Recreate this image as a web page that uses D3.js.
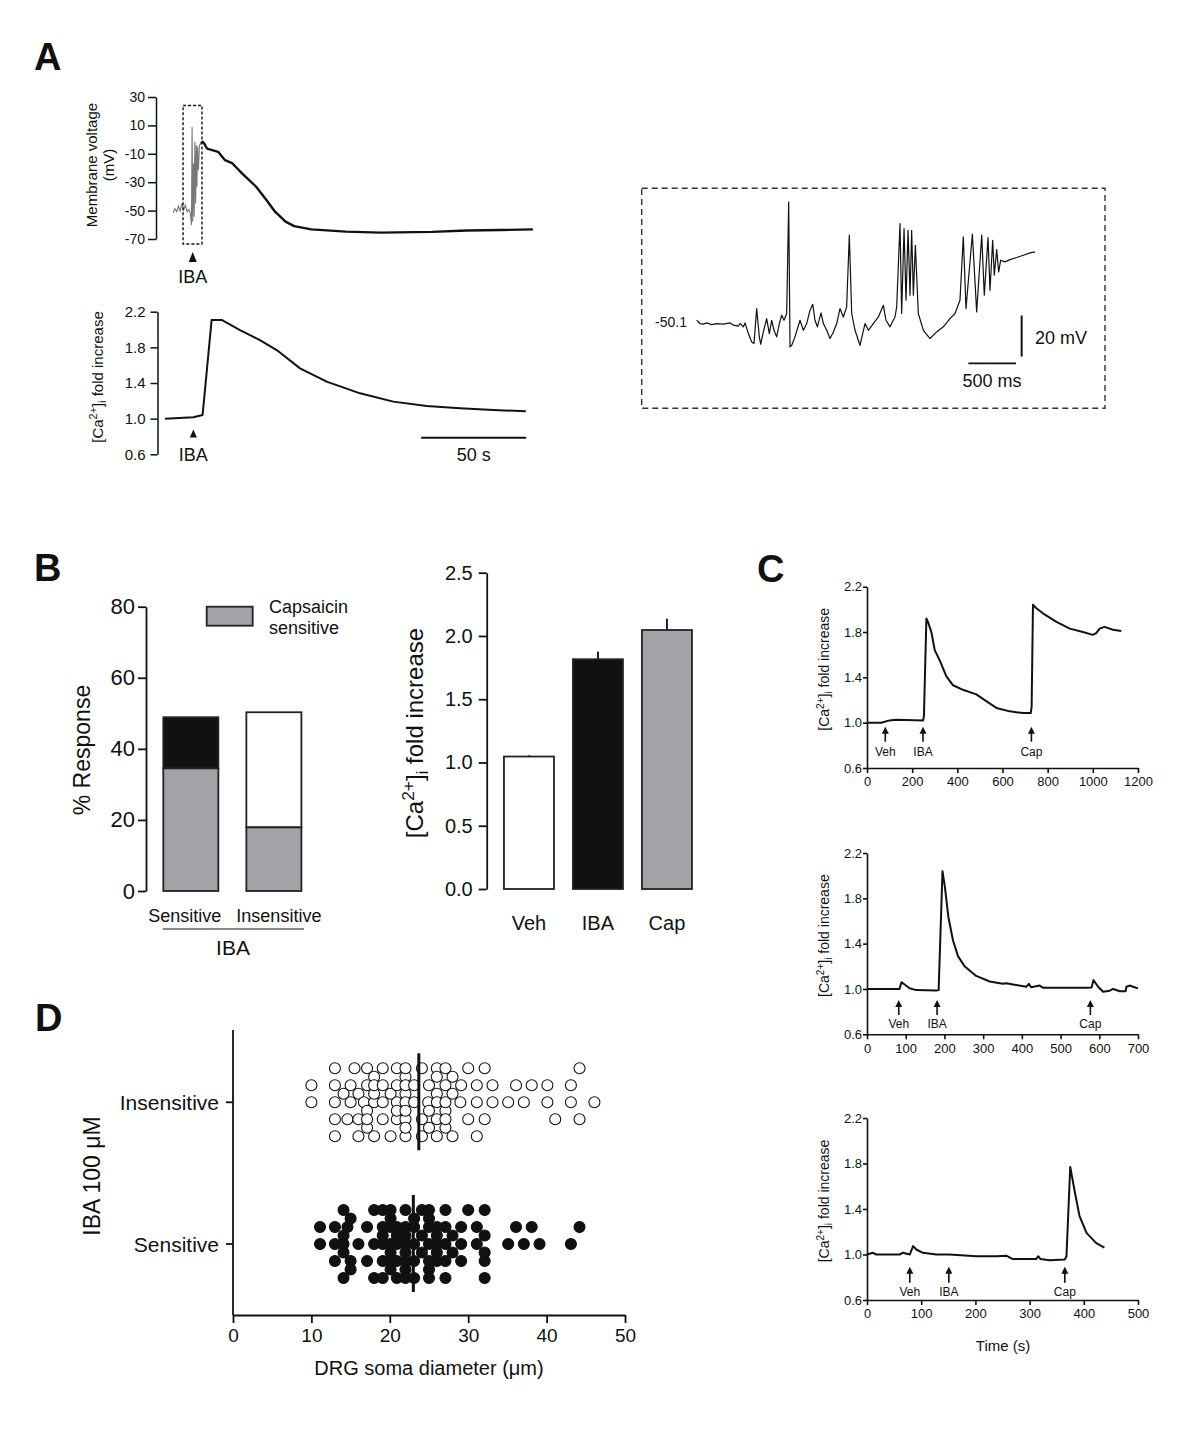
<!DOCTYPE html>
<html><head><meta charset="utf-8">
<script src="https://cdn.jsdelivr.net/npm/d3@7"></script>
<style>body{margin:0;background:#fff}svg{display:block}</style>
</head><body><svg id="c" width="1200" height="1440"></svg>
<script>
// ================= DATA =================
// Panel A top: membrane voltage (time s, mV)
const aVoltEarly = [[3.9,-51.5],[4.7,-48.5],[5.6,-50.8],[6.4,-46.8],[7.2,-50.3],[8.1,-44.9],[8.9,-49.6],[9.7,-46.1],[10.5,-50.8],[11.3,-49.2],[12.1,-52.0],[12.6,-60.2],[12.9,8.9],[13.2,-57.8],[13.6,-16.8],[13.9,-54.3],[14.2,-1.6],[14.6,-45.0],[14.9,-4.0],[15.2,-33.2],[15.5,-5.1],[15.9,-21.5],[16.4,-4.0],[17.1,-2.8]];
const aVoltLate = [[17.1,-2.8],[17.9,-1.6],[18.7,-2.8],[20.0,-6.3],[25.3,-8.6],[28.6,-14.5],[31.9,-16.5],[36.8,-23.9],[43.4,-33.2],[48.3,-42.6],[52.4,-50.8],[57.4,-57.8],[61.5,-60.9],[69.7,-63.2],[86.1,-64.8],[102.6,-65.5],[127.2,-65.0],[143.7,-64.0],[160.1,-63.7],[175.2,-63.2]];
const aVoltTicks = [30,10,-10,-30,-50,-70];
// Panel A bottom: [Ca2+]i fold increase (time s, ratio)
const aCa = [[0,1.0],[13.5,1.015],[17.9,1.041],[22.2,2.107],[27.0,2.107],[35.7,1.994],[45.2,1.882],[53.2,1.77],[64.3,1.564],[77.0,1.415],[92.9,1.284],[108.7,1.191],[124.6,1.142],[140.5,1.116],[156.3,1.097],[171.8,1.082]];
const aCaTicks = [0.6,1.0,1.4,1.8,2.2];
const aIbaTime = 13.2;
// Panel A inset: burst (time ms, mV)
const inset = [[0,-49.3],[35,-50.9],[70,-51.2],[105,-50.6],[157,-51.4],[210,-50.9],[280,-51.2],[350,-50.6],[385,-51.7],[437,-52.2],[455,-50.9],[490,-52.5],[507,-50.6],[542,-55.8],[577,-59.9],[601,-60.7],[629,-43.6],[657,-57.4],[671,-61.0],[699,-55.0],[734,-48.5],[762,-55.8],[787,-49.3],[811,-54.2],[839,-57.4],[867,-50.9],[892,-46.8],[916,-49.3],[944,-46.0],[965,8.4],[979,-62.3],[997,-61.5],[1031,-57.4],[1084,-49.3],[1119,-54.2],[1154,-50.9],[1189,-44.4],[1217,-41.5],[1241,-49.3],[1266,-52.5],[1304,-45.7],[1329,-50.9],[1364,-54.2],[1399,-58.2],[1434,-55.0],[1469,-50.9],[1503,-43.6],[1538,-47.7],[1573,-42.8],[1601,-7.8],[1626,-46.0],[1661,-54.2],[1713,-61.5],[1766,-50.9],[1801,-54.2],[1853,-50.9],[1906,-47.7],[1958,-42.0],[1986,-49.3],[2028,-52.5],[2080,-47.7],[2098,-42.8],[2133,-2.1],[2150,-46.0],[2175,-4.6],[2196,-39.5],[2217,-5.4],[2238,-37.1],[2255,-5.4],[2273,-37.1],[2294,-12.7],[2325,-46.0],[2378,-54.2],[2448,-58.2],[2517,-55.0],[2587,-52.5],[2657,-48.5],[2710,-46.0],[2762,-39.5],[2797,-8.6],[2825,-43.6],[2892,-7.3],[2937,-45.2],[2990,-7.8],[3017,-37.1],[3056,-9.0],[3077,-34.7],[3105,-10.3],[3122,-27.3],[3147,-14.8],[3168,-25.7],[3189,-20.0],[3234,-20.8],[3287,-19.7],[3357,-18.7],[3427,-17.6],[3497,-16.4],[3549,-15.9]];
// Panel B left: % response
const bCats = ["Sensitive","Insensitive"];
const bCapSens = [34.5, 17.9];
const bTotal = [48.9, 50.3];
const bLeftTicks = [0,20,40,60,80];
// Panel B right: mean fold increase
const bDrugs = ["Veh","IBA","Cap"];
const bMeans = [1.047, 1.816, 2.047];
const bSem = [0.01, 0.06, 0.09];
const bRightTicks = [0,0.5,1.0,1.5,2.0,2.5];
// Panel C traces (time s, ratio)
const c1 = [[0,1.0],[63,1.0],[100,1.02],[130,1.025],[248,1.02],[252,1.055],[263,1.92],[270,1.89],[285,1.80],[300,1.64],[322,1.55],[351,1.41],[381,1.33],[425,1.29],[484,1.25],[528,1.19],[573,1.13],[632,1.10],[691,1.085],[725,1.085],[729,1.14],[735,2.04],[750,2.01],[779,1.965],[839,1.89],[898,1.83],[956,1.80],[1000,1.775],[1015,1.79],[1030,1.83],[1052,1.845],[1089,1.82],[1126,1.81]];
const c2 = [[0,1.0],[84,1.0],[89,1.06],[97,1.04],[110,1.007],[127,0.99],[179,0.986],[185,0.99],[195,2.04],[201,1.905],[210,1.64],[222,1.43],[235,1.29],[252,1.20],[282,1.115],[317,1.066],[351,1.046],[360,1.05],[377,1.04],[412,1.02],[418,1.045],[424,1.015],[446,1.03],[455,1.01],[515,1.01],[567,1.01],[580,1.013],[585,1.078],[597,1.02],[610,0.976],[627,0.985],[636,1.0],[653,0.98],[668,0.98],[670,1.02],[680,1.03],[687,1.02],[700,1.005]];
const c3 = [[0,1.0],[11,1.015],[17,1.0],[30,1.0],[60,1.0],[66,1.015],[79,1.0],[85,1.074],[91,1.044],[103,1.015],[128,1.0],[152,1.0],[202,0.985],[239,0.985],[257,0.99],[269,0.96],[288,0.96],[312,0.96],[316,0.985],[320,0.96],[337,0.95],[365,0.955],[368,0.985],[375,1.77],[383,1.56],[392,1.34],[405,1.19],[423,1.10],[438,1.06]];
const cEvents1 = [["Veh",81],["IBA",248],["Cap",728]];
const cEvents2 = [["Veh",82],["IBA",181],["Cap",577]];
const cEvents3 = [["Veh",79],["IBA",151],["Cap",365]];
const cYTicks = [0.6,1.0,1.4,1.8,2.2];
// Panel D: soma diameters (um)
const dCats = ["Insensitive","Sensitive"];
const dInsensitive = [13.0,16.0,18.0,22.0,24.1,26.0,28.0,32.1,20.1,22.0,15.0,17.1,19.1,22.0,24.9,26.0,27.1,30.0,10.0,13.0,16.0,18.0,20.9,22.0,23.1,25.0,27.1,31.1,37.1,40.1,43.1,44.2,14.1,17.1,19.1,20.9,22.0,26.0,27.1,29.1,33.1,10.0,13.0,15.5,17.1,18.0,20.1,22.0,23.1,25.0,27.1,31.1,35.1,38.1,41.1,44.2,15.0,17.1,19.1,20.9,22.0,26.0,27.1,33.1,13.0,16.0,18.0,20.9,22.0,24.1,26.0,28.0,29.0,31.1,36.1,40.1,43.1,46.1,17.1,19.1,22.0,27.1,13.0,14.6,16.7,18.0,20.9,24.1,25.0,26.0,28.0,30.0,32.1];
const dSensitive = [13.0,14.1,18.0,20.1,22.0,23.1,25.0,26.0,29.1,32.1,20.9,22.0,25.0,15.0,19.1,20.1,22.0,24.1,27.1,11.1,14.1,17.1,19.1,20.1,20.9,22.0,23.1,26.0,28.0,32.1,36.1,44.2,14.6,16.0,19.1,20.1,22.0,23.1,25.0,27.1,29.1,32.1,11.1,14.1,17.1,19.1,20.1,20.9,22.0,24.1,25.0,26.0,31.1,35.1,38.1,43.1,15.0,19.1,20.9,23.1,25.0,27.1,30.0,13.0,14.1,18.0,20.1,22.0,24.1,26.0,28.0,31.1,32.1,37.1,39.1,19.1,20.9,23.1,25.0,27.1,13.0,14.1,15.0,18.0,20.1,22.0,25.0,26.0,27.1,29.1,32.1];
const dMedians = [23.7, 23.0];
const dTicks = [0,10,20,30,40,50];

// ================= DRAW =================
const FONT = '"Liberation Sans", Arial, Helvetica, sans-serif';
const INK = "#111";
const GREY = "#a3a3a7";
const svg = d3.select("#c").attr("font-family", FONT);
svg.append("rect").attr("width",1200).attr("height",1440).attr("fill","#fff");

function txt(x, y, s, size, opts = {}) {
  const t = svg.append("text").attr("x", x).attr("y", y).text(s)
    .attr("font-size", size).attr("fill", INK)
    .attr("text-anchor", opts.anchor || "start");
  if (opts.bold) t.attr("font-weight", "bold");
  if (opts.rot) t.attr("transform", `rotate(-90,${x},${y})`);
  return t;
}
function caLabel(x, y, size) {
  const t = svg.append("text").attr("transform", `translate(${x},${y}) rotate(-90)`)
    .attr("text-anchor", "middle").attr("font-size", size).attr("fill", INK);
  t.append("tspan").text("[Ca");
  t.append("tspan").text("2+").attr("dy", -size * 0.38).attr("font-size", size * 0.72);
  t.append("tspan").text("]").attr("dy", size * 0.38);
  t.append("tspan").text("i").attr("dy", size * 0.22).attr("font-size", size * 0.72);
  t.append("tspan").text(" fold increase").attr("dy", -size * 0.22);
}
function styleAxis(g, fs, sw) {
  g.attr("font-family", FONT).attr("font-size", fs);
  g.selectAll("path.domain").attr("stroke", INK).attr("stroke-width", sw);
  g.selectAll(".tick line").attr("stroke", INK).attr("stroke-width", sw);
  g.selectAll(".tick text").attr("fill", INK);
}
const fmt = d => String(d);

// ---- Panel letters
txt(34, 70, "A", 38, {bold: true});
txt(34, 581, "B", 38, {bold: true});
txt(757, 582, "C", 38, {bold: true});
txt(35, 1031, "D", 38, {bold: true});

// ---- Panel A top
const xA = d3.scaleLinear().domain([0, 50]).range([165, 270]);
const yAV = d3.scaleLinear().domain([-70, 30]).range([239, 97]);
const gAt = svg.append("g").attr("transform", "translate(156,0)")
  .call(d3.axisLeft(yAV).tickValues(aVoltTicks).tickFormat(fmt).tickSize(8).tickSizeOuter(0).tickPadding(3));
styleAxis(gAt, 14, 1.5);
txt(97, 165, "Membrane voltage", 15, {anchor: "middle", rot: true});
txt(114, 165, "(mV)", 15, {anchor: "middle", rot: true});
const lineA = d3.line().x(d => xA(d[0])).y(d => yAV(d[1]));
svg.append("path").datum(aVoltEarly).attr("d", lineA).attr("fill", "none").attr("stroke", "#777").attr("stroke-width", 1.1);
svg.append("path").datum(aVoltLate).attr("d", lineA).attr("fill", "none").attr("stroke", INK).attr("stroke-width", 2.4).attr("stroke-linejoin", "round");
svg.append("rect").attr("x", xA(8.6)).attr("y", yAV(24)).attr("width", xA(17.6) - xA(8.6)).attr("height", yAV(-73.5) - yAV(24))
  .attr("fill", "none").attr("stroke", INK).attr("stroke-width", 1.4).attr("stroke-dasharray", "3,2");
{
  const ax = xA(aIbaTime);
  svg.append("path").attr("d", `M${ax},252 L${ax - 4},262 L${ax + 4},262 Z`).attr("fill", INK);
  txt(ax, 283, "IBA", 18, {anchor: "middle"});
}

// ---- Panel A bottom
const yAC = d3.scaleLinear().domain([0.6, 2.2]).range([454.3, 311.7]);
const gAb = svg.append("g").attr("transform", "translate(157.5,0)")
  .call(d3.axisLeft(yAC).tickValues(aCaTicks).tickFormat(d3.format(".1f")).tickSize(7).tickSizeOuter(0).tickPadding(5));
styleAxis(gAb, 15, 1.5);
caLabel(103, 377, 15);
svg.append("path").datum(aCa).attr("d", d3.line().x(d => xA(d[0])).y(d => yAC(d[1])))
  .attr("fill", "none").attr("stroke", INK).attr("stroke-width", 2).attr("stroke-linejoin", "round");
{
  const ax = xA(aIbaTime + 0.3);
  svg.append("path").attr("d", `M${ax},429.5 L${ax - 3.5},437.5 L${ax + 3.5},437.5 Z`).attr("fill", INK);
  txt(ax, 461, "IBA", 18, {anchor: "middle"});
  svg.append("line").attr("x1", xA(122)).attr("x2", xA(172)).attr("y1", 437.7).attr("y2", 437.7).attr("stroke", INK).attr("stroke-width", 2);
  txt(xA(147), 461, "50 s", 18, {anchor: "middle"});
}

// ---- Panel A inset
const xI = d3.scaleLinear().domain([0, 3549]).range([696.7, 1035]);
const yI = d3.scaleLinear().domain([-70, 10]).range([362.7, 198.7]);
svg.append("rect").attr("x", 641.7).attr("y", 188.3).attr("width", 463.3).attr("height", 220)
  .attr("fill", "none").attr("stroke", "#333").attr("stroke-width", 1.4).attr("stroke-dasharray", "6,4");
svg.append("path").datum(inset).attr("d", d3.line().x(d => xI(d[0])).y(d => yI(d[1])))
  .attr("fill", "none").attr("stroke", INK).attr("stroke-width", 1.2).attr("stroke-linejoin", "round");
txt(687, 327, "-50.1", 14, {anchor: "end"});
svg.append("line").attr("x1", xI(3409)).attr("x2", xI(3409)).attr("y1", yI(-47)).attr("y2", yI(-67)).attr("stroke", INK).attr("stroke-width", 2);
svg.append("line").attr("x1", xI(2850)).attr("x2", xI(3350)).attr("y1", 363.3).attr("y2", 363.3).attr("stroke", INK).attr("stroke-width", 1.8);
txt(1035, 344, "20 mV", 18);
txt(992, 387, "500 ms", 18, {anchor: "middle"});

// ---- Panel B left
const xBL = d3.scaleBand().domain(bCats).range([149.3, 315.4]).paddingInner(0.3373).paddingOuter(0.1687);
const yBL = d3.scaleLinear().domain([0, 80]).range([891, 606.7]);
const gBL = svg.append("g").attr("transform", "translate(146,0)")
  .call(d3.axisLeft(yBL).tickValues(bLeftTicks).tickFormat(fmt).tickSize(8).tickSizeOuter(0).tickPadding(3));
styleAxis(gBL, 22, 1.8);
bCats.forEach((c, i) => {
  const x = xBL(c), w = xBL.bandwidth();
  svg.append("rect").attr("x", x).attr("y", yBL(bTotal[i])).attr("width", w).attr("height", yBL(bCapSens[i]) - yBL(bTotal[i]))
    .attr("fill", i === 0 ? INK : "#fff").attr("stroke", "#222").attr("stroke-width", 1.8);
  svg.append("rect").attr("x", x).attr("y", yBL(bCapSens[i])).attr("width", w).attr("height", yBL(0) - yBL(bCapSens[i]))
    .attr("fill", GREY).attr("stroke", "#222").attr("stroke-width", 1.8);
  txt(x + w / 2 + (i === 0 ? -6 : 5), 922, c, 18, {anchor: "middle"});
});
svg.append("line").attr("x1", 162.7).attr("x2", 304).attr("y1", 929).attr("y2", 929).attr("stroke", INK).attr("stroke-width", 1.2);
txt(233, 955, "IBA", 21, {anchor: "middle"});
txt(90, 750, "% Response", 23, {anchor: "middle", rot: true});
svg.append("rect").attr("x", 206.7).attr("y", 606.7).attr("width", 46).attr("height", 19).attr("fill", GREY).attr("stroke", "#222").attr("stroke-width", 1.8);
txt(269, 613, "Capsaicin", 18);
txt(269, 634, "sensitive", 18);

// ---- Panel B right
const xBR = d3.scaleBand().domain(bDrugs).range([486.7, 709.2]).paddingInner(0.275).paddingOuter(0.25);
const yBR = d3.scaleLinear().domain([0, 2.5]).range([889, 572.7]);
const gBR = svg.append("g").attr("transform", "translate(486.7,0)")
  .call(d3.axisLeft(yBR).tickValues(bRightTicks).tickFormat(d3.format(".1f")).tickSize(8).tickSizeOuter(0).tickPadding(6));
styleAxis(gBR, 20, 1.8);
bDrugs.forEach((c, i) => {
  const x = xBR(c), w = xBR.bandwidth();
  svg.append("line").attr("x1", x + w / 2).attr("x2", x + w / 2).attr("y1", yBR(bMeans[i])).attr("y2", yBR(bMeans[i] + bSem[i]))
    .attr("stroke", "#222").attr("stroke-width", 2);
  svg.append("rect").attr("x", x).attr("y", yBR(bMeans[i])).attr("width", w).attr("height", yBR(0) - yBR(bMeans[i]))
    .attr("fill", [ "#fff", INK, GREY ][i]).attr("stroke", "#222").attr("stroke-width", 1.8);
  txt(x + w / 2, 930, c, 20, {anchor: "middle"});
});
caLabel(423, 733, 24);

// ---- Panel C
function panelC(data, events, xmax, xstep, y0, y22, labelOff, tipOff, tailOff) {
  const x = d3.scaleLinear().domain([0, xmax]).range([867, 1138]);
  const y = d3.scaleLinear().domain([0.6, 2.2]).range([y0, y22]);
  const gx = svg.append("g").attr("transform", `translate(0,${y0})`)
    .call(d3.axisBottom(x).tickValues(d3.range(0, xmax + 1, xstep)).tickFormat(fmt).tickSize(5).tickSizeOuter(0).tickPadding(4));
  styleAxis(gx, 13, 1.6);
  const gy = svg.append("g").attr("transform", "translate(867,0)")
    .call(d3.axisLeft(y).tickValues(cYTicks).tickFormat(d3.format(".1f")).tickSize(4).tickSizeOuter(0).tickPadding(1));
  styleAxis(gy, 13, 1.6);
  svg.append("path").datum(data).attr("d", d3.line().x(d => x(d[0])).y(d => y(d[1])))
    .attr("fill", "none").attr("stroke", INK).attr("stroke-width", 2).attr("stroke-linejoin", "round");
  events.forEach(([name, t]) => {
    const ex = x(t), tip = y0 - tipOff, tail = y0 - tailOff;
    svg.append("path").attr("d", `M${ex},${tip} L${ex - 3.5},${tip + 7} L${ex + 3.5},${tip + 7} Z`).attr("fill", INK);
    svg.append("line").attr("x1", ex).attr("x2", ex).attr("y1", tip + 5).attr("y2", tail).attr("stroke", INK).attr("stroke-width", 1.6);
    txt(ex, y0 - labelOff, name, 12, {anchor: "middle"});
  });
  caLabel(829, (y0 + y22) / 2 - 8, 14);
}
panelC(c1, cEvents1, 1200, 200, 768, 586.7, 12, 41.3, 26.3);
panelC(c2, cEvents2, 700, 100, 1034.3, 853, 6.5, 34.3, 19.3);
panelC(c3, cEvents3, 500, 100, 1300, 1118, 4, 33.3, 17.3);
txt(1003, 1351, "Time (s)", 15, {anchor: "middle"});

// ---- Panel D
const xD = d3.scaleLinear().domain([0, 50]).range([233, 625]);
const yD = d3.scalePoint().domain(dCats).range([1102.3, 1244]);
const gxD = svg.append("g").attr("transform", "translate(0,1315)")
  .call(d3.axisBottom(xD).tickValues(dTicks).tickFormat(fmt).tickSize(8).tickSizeOuter(0).tickPadding(6));
styleAxis(gxD, 19, 1.8);
svg.append("line").attr("x1", 233).attr("x2", 233).attr("y1", 1030).attr("y2", 1315).attr("stroke", INK).attr("stroke-width", 1.8);
dCats.forEach(c => {
  svg.append("line").attr("x1", 226).attr("x2", 233).attr("y1", yD(c)).attr("y2", yD(c)).attr("stroke", INK).attr("stroke-width", 1.8);
  txt(219, yD(c) + 7.5, c, 21, {anchor: "end"});
});
txt(100, 1176, "IBA 100 \u03BCM", 23, {anchor: "middle", rot: true});
txt(429, 1375, "DRG soma diameter (\u03BCm)", 20, {anchor: "middle"});

function swarm(values, slotPx, r) {
  const order = values.slice().sort((a, b) => a - b);
  const slots = [0, -2, 2, -4, 4, -1, 1, -3, 3];
  const placed = [];
  order.forEach(v => {
    const px = xD(v);
    let best = 0, bestOv = Infinity;
    for (const s of slots) {
      const py = s * slotPx;
      let ov = 0;
      for (const q of placed) {
        const d = Math.hypot(q.px - px, q.py - py);
        if (d < 2 * r - 1) ov = Math.max(ov, 2 * r - d);
      }
      if (ov === 0) { best = s; break; }
      if (ov < bestOv - 0.01) { bestOv = ov; best = s; }
    }
    placed.push({v, px, py: best * slotPx});
  });
  return placed;
}
[[dInsensitive, "#fff"], [dSensitive, INK]].forEach(([vals, fill], i) => {
  const cy = yD(dCats[i]);
  const pts = swarm(vals, 8.5, 5.5);
  svg.append("g").selectAll("circle").data(pts).join("circle")
    .attr("cx", d => d.px).attr("cy", d => cy + d.py).attr("r", 5.5)
    .attr("fill", fill).attr("stroke", INK).attr("stroke-width", 1.1);
  svg.append("line").attr("x1", xD(dMedians[i])).attr("x2", xD(dMedians[i]))
    .attr("y1", cy - 49).attr("y2", cy + 48).attr("stroke", INK).attr("stroke-width", 3);
});
</script></body></html>
